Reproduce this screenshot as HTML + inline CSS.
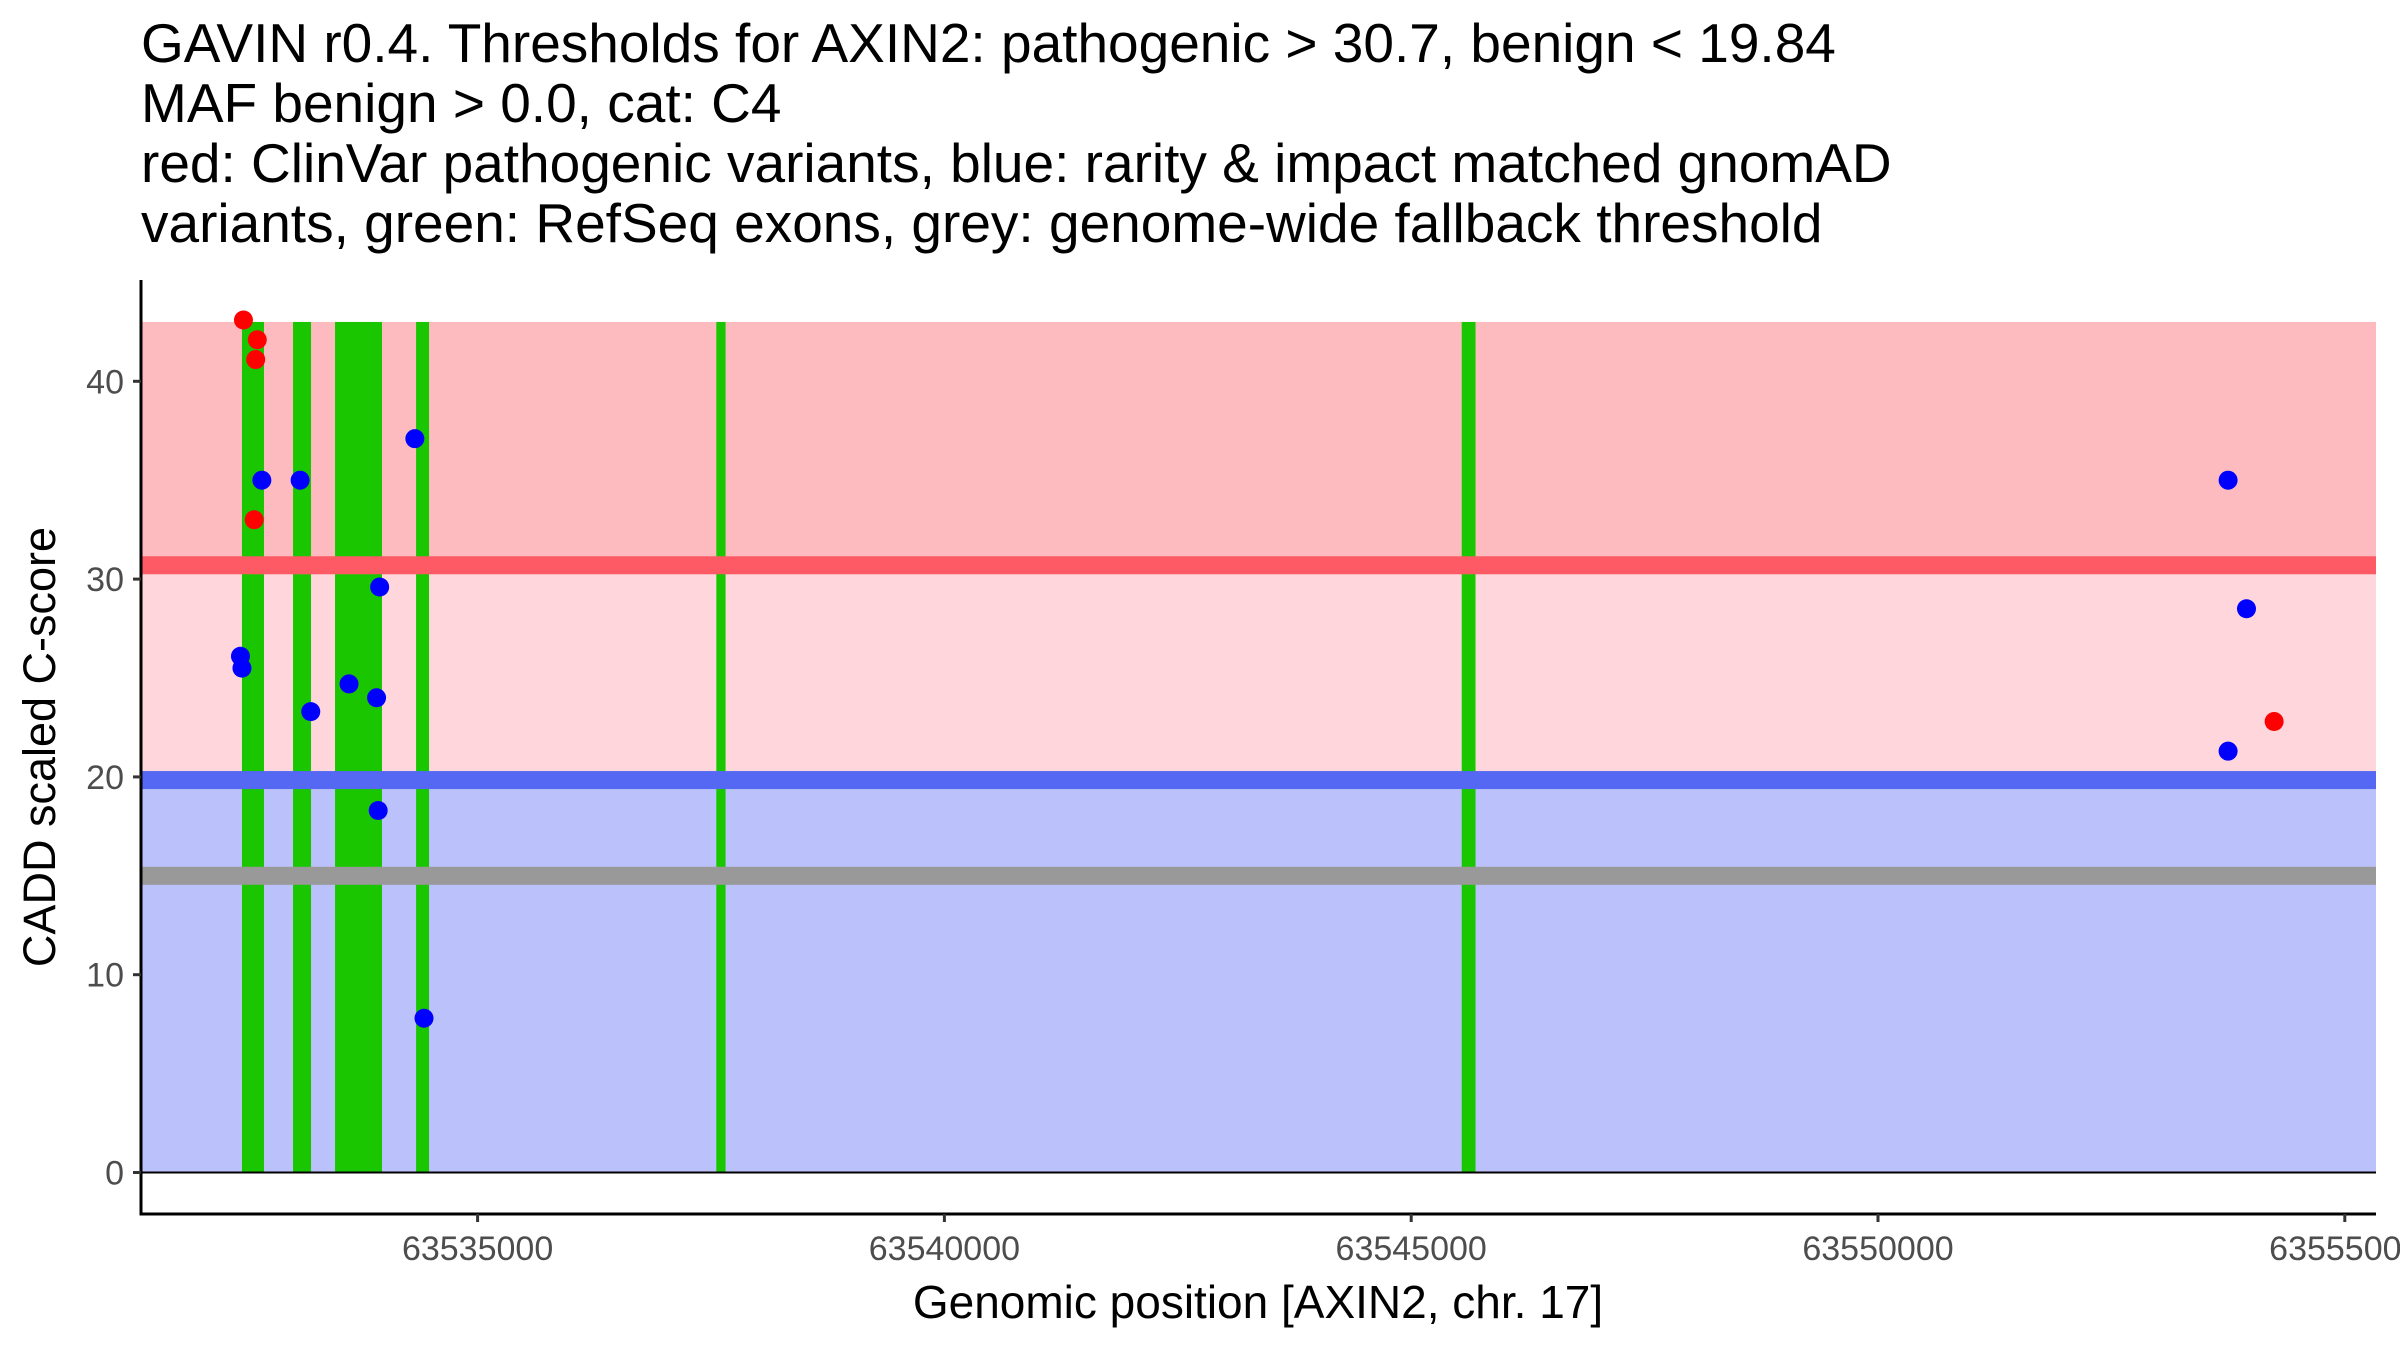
<!DOCTYPE html>
<html><head><meta charset="utf-8">
<style>
html,body{margin:0;padding:0;background:#fff;}
svg{display:block;font-family:"Liberation Sans",Arial,sans-serif;}
</style></head>
<body>
<svg id="chart" width="2400" height="1350" viewBox="0 0 2400 1350">
<g font-size="55" fill="#000">
<text x="141" y="62">GAVIN r0.4. Thresholds for AXIN2: pathogenic &gt; 30.7, benign &lt; 19.84</text>
<text x="141" y="122">MAF benign &gt; 0.0, cat: C4</text>
<text x="141" y="182">red: ClinVar pathogenic variants, blue: rarity &amp; impact matched gnomAD</text>
<text x="141" y="242">variants, green: RefSeq exons, grey: genome-wide fallback threshold</text>
</g>
<g id="bands"></g>
<g id="exons"></g>
<g id="lines"></g>
<g id="points"></g>
<g id="axes"></g>
<text x="1258" y="1318" font-size="46" text-anchor="middle">Genomic position [AXIN2, chr. 17]</text>
<text transform="translate(55,747) rotate(-90)" font-size="45" text-anchor="middle">CADD scaled C-score</text>
</svg>
<script>
const xTicks = [63535000, 63540000, 63545000, 63550000, 63555000];
const yTicks = [0, 10, 20, 30, 40];
const exonStarts = [63532476, 63533023, 63533473, 63534341, 63537557, 63545541];
const exonEnds   = [63532712, 63533216, 63533976, 63534480, 63537656, 63545689];
const pathoX = [63532492, 63532640, 63532623, 63532607, 63554243];
const pathoY = [43.1, 42.1, 41.1, 33.0, 22.8];
const benignX = [63532689, 63532460, 63532476, 63533099, 63533213, 63533623, 63533951, 63533918, 63533935, 63534328, 63534426, 63553750, 63553947, 63553750];
const benignY = [35.0, 26.1, 25.5, 35.0, 23.3, 24.7, 29.6, 24.0, 18.3, 37.1, 7.8, 35.0, 28.5, 21.3];
const pathoThreshold = 30.7;
const benignThreshold = 19.84;
const fallbackThreshold = 15;
const yMaxBand = 43;

const NS = 'http://www.w3.org/2000/svg';
const L = 141, R = 2376, AXB = 1214, AXT = 280;
function px(v){ return 477.6 + (v - 63535000) / 5000 * 466.8; }
function py(v){ return 1172.5 - v * 19.78; }
function mk(parent, tag, attrs){
  const e = document.createElementNS(NS, tag);
  for (const k in attrs) e.setAttribute(k, attrs[k]);
  document.getElementById(parent).appendChild(e);
  return e;
}
let e;
e = mk('bands','rect',{x:L, y:py(yMaxBand), width:R-L, height:py(pathoThreshold)-py(yMaxBand), fill:'#fdbbc0'});


e = mk('bands','rect',{x:L, y:py(pathoThreshold), width:R-L, height:py(benignThreshold)-py(pathoThreshold), fill:'#fed6db'});


e = mk('bands','rect',{x:L, y:py(benignThreshold), width:R-L, height:py(0)-py(benignThreshold), fill:'#bbc1fb'});



for (let i = 0; i < exonStarts.length; i++) {
  e = mk('exons','rect',{x:px(exonStarts[i]), y:py(yMaxBand), width:px(exonEnds[i])-px(exonStarts[i]), height:py(0)-py(yMaxBand), fill:'#1ac600'});
  
  
}

e = mk('lines','rect',{x:L, y:py(pathoThreshold)-9, width:R-L, height:18, fill:'#fe5a66'});


e = mk('lines','rect',{x:L, y:py(benignThreshold)-9, width:R-L, height:18, fill:'#5468f4'});


e = mk('lines','rect',{x:L, y:py(fallbackThreshold)-9, width:R-L, height:18, fill:'#999999'});


e = mk('lines','line',{x1:L, x2:R, y1:py(0), y2:py(0), stroke:'#000', 'stroke-width':2});



for (let i = 0; i < benignX.length; i++) {
  e = mk('points','circle',{cx:px(benignX[i]), cy:py(benignY[i]), r:9.5, fill:'#0000ff'});
  
  
}
for (let i = 0; i < pathoX.length; i++) {
  e = mk('points','circle',{cx:px(pathoX[i]), cy:py(pathoY[i]), r:9.5, fill:'#ff0000'});
  
  
}

e = mk('axes','line',{x1:L, x2:L, y1:AXT, y2:AXB+1.5, stroke:'#000', 'stroke-width':3});


e = mk('axes','line',{x1:L-1.5, x2:R, y1:AXB, y2:AXB, stroke:'#000', 'stroke-width':3});


yTicks.forEach(t => {
  e = mk('axes','line',{x1:L-8, x2:L, y1:py(t), y2:py(t), stroke:'#333', 'stroke-width':3});
  
  
  e = mk('axes','text',{x:L-17, y:py(t)+12, 'font-size':34, fill:'#4d4d4d', 'text-anchor':'end'});
  e.textContent = t;
  
  
});
xTicks.forEach(t => {
  e = mk('axes','line',{x1:px(t), x2:px(t), y1:AXB, y2:AXB+8, stroke:'#333', 'stroke-width':3});
  
  
  e = mk('axes','text',{x:px(t), y:AXB+46, 'font-size':34, fill:'#4d4d4d', 'text-anchor':'middle'});
  e.textContent = t;
  
  
});
</script>
</body></html>
